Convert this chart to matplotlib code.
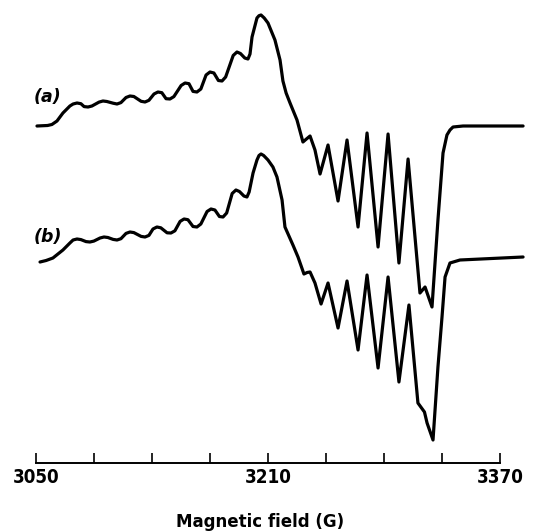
import matplotlib
matplotlib.use("Agg")
import matplotlib.pyplot as plt
import numpy as np

# EPR spectra, field in gauss, signal in arbitrary units
field_a = [3050.7, 3058.0, 3061.0, 3064.5, 3068.6, 3073.4,
           3075.6, 3078.3, 3081.0, 3083.2, 3085.9, 3088.6,
           3093.5, 3096.2, 3098.9, 3103.2, 3105.9, 3108.6,
           3112.1, 3114.8, 3117.5, 3122.5, 3125.2, 3127.9,
           3131.4, 3134.1, 3136.8, 3139.7, 3142.4, 3145.1,
           3150.1, 3152.8, 3155.5, 3158.3, 3161.0, 3163.7,
           3167.3, 3170.0, 3172.7, 3175.8, 3178.3, 3180.8,
           3186.0, 3188.6, 3191.0, 3194.0, 3196.2, 3197.6,
           3199.0, 3202.4, 3203.8, 3205.2, 3207.4, 3210.0, 3214.8, 3218.3,
           3220.3, 3222.5, 3225.2, 3230.0, 3234.1, 3236.5, 3239.0, 3242.4,
           3245.9, 3251.4, 3258.3, 3264.5, 3272.1, 3278.3, 3285.9, 3292.8,
           3300.3, 3306.6, 3314.8, 3318.3, 3323.1, 3327.2, 3330.7, 3333.4,
           3335.5, 3337.6, 3344.5, 3385.9]
signal_a = [0, 0.5, 1.5, 5, 13, 20,
            22, 23, 22.3, 19.4, 19, 20.0,
            23.9, 25, 24.5, 22.8, 22, 23.4,
            28.5, 30, 29.5, 24.7, 24, 25.7,
            32.0, 34, 33.3, 27.3, 27, 29.4,
            40.5, 43, 42.3, 34.6, 34, 37,
            51, 54, 53, 45.5, 45, 49,
            70.5, 74, 72.5, 68, 67, 72,
            89, 108, 110.3, 111, 108, 103, 86, 66,
            45, 33, 23, 6, -16, -13, -10, -24,
            -48, -19, -75, -14, -101, -7, -121, -8,
            -137, -33, -167, -161, -181, -94, -27, -9,
            -4, -1, 0, 0]

field_b = [3052.8, 3057.0, 3061.7, 3068.6, 3073.4,
           3075.6, 3078.3, 3081.0, 3084.5, 3087.2, 3089.9,
           3094.2, 3096.9, 3099.6, 3103.2, 3105.9, 3108.6,
           3112.1, 3114.8, 3117.5, 3122.5, 3125.2, 3127.9,
           3130.7, 3133.4, 3136.1, 3140.4, 3143.1, 3145.8,
           3149.4, 3152.1, 3154.8, 3158.3, 3161.0, 3163.7,
           3168.0, 3170.7, 3173.4, 3176.5, 3179.0, 3181.5,
           3185.3, 3187.9, 3190.3, 3193.4, 3195.5, 3197.0,
           3199.7, 3202.4, 3203.8, 3205.2, 3207.0, 3210.0, 3213.4, 3216.2,
           3219.7, 3221.7, 3227.2, 3230.7, 3234.8, 3237.0, 3239.0, 3242.4,
           3246.6, 3251.4, 3258.3, 3264.5, 3272.1, 3278.3, 3285.9, 3292.8,
           3300.3, 3307.2, 3313.4, 3317.9, 3319.7, 3323.8, 3327.2, 3330.0,
           3332.1, 3335.5, 3342.4, 3385.9]
signal_b = [0, 1.5, 4, 12, 19,
            22, 23, 22.4, 20.4, 20, 20.9,
            24.0, 25, 24.5, 22.6, 22, 23.3,
            28.6, 30, 29.4, 25.6, 25, 26.6,
            33.0, 35, 34.2, 29.2, 29, 31.2,
            40.6, 43, 42.3, 35.5, 35, 38,
            50.5, 53, 52, 45.5, 45, 49,
            68.5, 72, 70.5, 66, 65, 70,
            89, 102, 106.5, 108, 106.5, 102, 95, 85,
            62, 35, 17, 5, -12, -10.5, -10, -21,
            -42, -21, -66, -19, -88, -13, -106, -15,
            -120, -43, -141, -150, -161, -178, -105, -55,
            -15, -1, 2, 5]

offset_b = -136
tick_fields = [3050, 3090, 3130, 3170, 3210, 3250, 3290, 3330, 3370]
tick_labels = ["3050", "", "", "", "3210", "", "", "", "3370"]

fig = plt.figure(figsize=(5.47, 5.31), dpi=100)
ax = fig.add_axes([0, 0, 1, 1])

lw = 2.3
ax.plot(field_a, signal_a, color="black", lw=lw, solid_joinstyle="round", solid_capstyle="round")
ax.plot(field_b, np.array(signal_b) + offset_b, color="black", lw=lw,
        solid_joinstyle="round", solid_capstyle="round")

ax.text(3058.3, 29, "(a)", ha="center", va="center", fontsize=12.5,
        fontweight="bold", fontstyle="italic")
ax.text(3058.3, -111, "(b)", ha="center", va="center", fontsize=12.5,
        fontweight="bold", fontstyle="italic")

ax.set_xlim(3025.2, 3402.4)
ax.set_ylim(-405, 126)

for s in ["top", "right", "left"]:
    ax.spines[s].set_visible(False)
ax.spines["bottom"].set_position(("data", -336.5))
ax.spines["bottom"].set_bounds(3050, 3370)
ax.spines["bottom"].set_linewidth(1.4)
ax.set_yticks([])
ax.set_xticks(tick_fields)
ax.set_xticklabels(tick_labels, fontsize=13.5, fontweight="bold", fontstretch="condensed")
ax.tick_params(axis="x", direction="in", length=7.5, width=1.2, pad=4)

fig.text(260 / 547, 1 - 522 / 531, "Magnetic field (G)", ha="center", va="center",
         fontsize=12, fontweight="bold")

fig.savefig("out.png", dpi=100)
